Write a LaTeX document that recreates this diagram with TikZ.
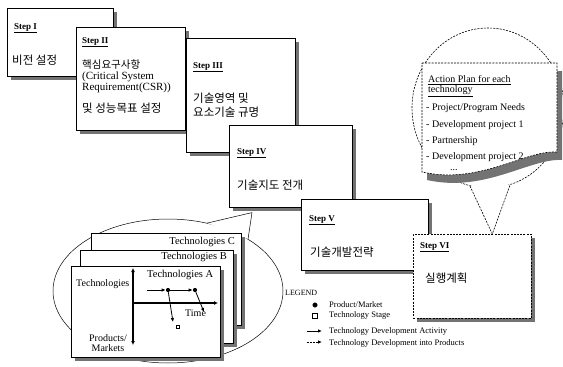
\documentclass[tikz,border=0pt]{standalone}
\usepackage{fontspec}
\setmainfont{Liberation Serif}
\newfontfamily\kr{Noto Sans CJK KR}
\usetikzlibrary{shapes.geometric,shadows,calc,arrows.meta}
\definecolor{shadowc}{gray}{0.45}
\tikzset{
  shd/.style={drop shadow={shadow xshift=3.5pt, shadow yshift=-3.5pt, fill=shadowc, opacity=1}},
  stepbox/.style={draw, fill=white, line width=0.6pt, anchor=north west, inner sep=0pt, shd},
  dstepbox/.style={stepbox, dash pattern=on 2pt off 1.2pt},
  page/.style={stepbox},
  steplbl/.style={anchor=west, inner sep=0pt, font=\fontsize{9}{10}\selectfont\bfseries},
  krt/.style={anchor=west, inner sep=0pt, font=\kr\fontsize{11.5}{13}\selectfont},
  ent/.style={anchor=west, inner sep=0pt, font=\fontsize{11}{11}\selectfont},
  ptxt/.style={anchor=west, inner sep=0pt, font=\fontsize{10.5}{11}\selectfont},
  apt/.style={anchor=west, inner sep=0pt, font=\fontsize{10}{11}\selectfont},
  lgt/.style={anchor=west, inner sep=0pt, font=\fontsize{8.5}{9}\selectfont},
  dsh/.style={dash pattern=on 2pt off 1.2pt},
  tip/.style={-{Latex[length=4pt,width=3.5pt]}},
  dot/.style={circle, fill=black, inner sep=0pt, minimum size=4.2pt},
}
\begin{document}
\begin{tikzpicture}[x=1pt,y=-1pt]
\useasboundingbox (0,0) rectangle (563,367);

% ---- lower-left callout ellipse
\node[ellipse, draw, line width=0.5pt, fill=white, minimum width=230pt, minimum height=144pt, inner sep=0pt] (ell) at (168,291) {};
% ---- top-right callout ellipse
\node[ellipse, draw, dsh, line width=0.6pt, fill=white, minimum width=152pt, minimum height=160pt, inner sep=0pt] (ell2) at (488,108) {};

% ---- step boxes
\node[stepbox, minimum width=106pt, minimum height=68pt] (s1) at (7,8) {};
\node[steplbl] (l1) at (14,28) {\underline{Step I}};
\node[krt] (k1) at (12,60) {비전 설정};

\node[stepbox, minimum width=109pt, minimum height=103pt] (s2) at (76,27) {};
\node[steplbl] (l2) at (82,42) {\underline{Step II}};
\node[krt, font=\kr\fontsize{10.5}{12}\selectfont] (k2a) at (82,65) {핵심요구사항};
\node[ent] (k2b) at (82,77) {(Critical System};
\node[ent] (k2c) at (82,88) {Requirement(CSR))};
\node[krt] (k2d) at (82,108) {및 성능목표 설정};

\node[stepbox, minimum width=109pt, minimum height=114pt] (s3) at (186,38) {};
\node[steplbl] (l3) at (193,67) {\underline{Step III}};
\node[krt] (k3a) at (193,98) {기술영역 및};
\node[krt] (k3b) at (193,112) {요소기술 규명};

\node[stepbox, minimum width=123pt, minimum height=82pt] (s4) at (229,125) {};
\node[steplbl] (l4) at (237,153) {\underline{Step IV}};
\node[krt] (k4) at (237,185) {기술지도 전개};

\node[stepbox, minimum width=127pt, minimum height=71pt] (s5) at (301,199) {};
\node[steplbl] (l5) at (309,220) {\underline{Step V}};
\node[krt] (k5) at (310,252) {기술개발전략};

\node[dstepbox, minimum width=118pt, minimum height=84pt] (s6) at (413,234) {};
\node[steplbl] (l6) at (420,247) {\underline{Step VI}};
\node[krt] (k6) at (425,278) {실행계획};

% ---- callout tails
\coordinate (tipA) at ($(s4.south west)+(23,5)$);
\fill[white] (ell.60) -- (tipA) -- (ell.33) -- cycle;
\draw[line width=0.5pt] (ell.60) -- (tipA) -- (ell.33);

\coordinate (tipB) at ($(s6.north)+(20,0)$);
\fill[white] (ell2.257) -- (tipB) -- (ell2.286) -- cycle;
\draw[dsh, line width=0.6pt] (ell2.257) -- (tipB) -- (ell2.286);

% ---- action plan document
\fill[shadowc] (427,71) -- (562,71) -- (562,160) .. controls (530,158) and (485,193) .. (427,180) -- cycle;
\draw[dsh, line width=0.6pt, fill=white] (422,63) -- (557,63) -- (557,152) .. controls (525,150) and (480,185) .. (422,172) -- cycle;
\node[apt] (ap1) at (428,80) {\underline{Action Plan for each}};
\node[apt] (ap2) at (428,91) {\underline{technology}};
\node[apt] (ap3) at (426,108) {- Project/Program Needs};
\node[apt] (ap4) at (426,125) {- Development project 1};
\node[apt] (ap5) at (426,141) {- Partnership};
\node[apt] (ap6) at (426,157) {- Development project 2};
\node[apt] (ap7) at (450,170) {...};

% ---- stack of roadmap pages
\node[page, minimum width=150pt, minimum height=92pt] (pc) at (91,233) {};
\node[ptxt, anchor=east] (tc) at (235,242) {Technologies C};
\node[page, minimum width=153pt, minimum height=93pt] (pb) at (80,250) {};
\node[ptxt, anchor=east] (tb) at (227,257) {Technologies B};
\node[page, minimum width=149pt, minimum height=91pt] (pa) at (71,266) {};
\node[ptxt] (ta) at (147,275) {Technologies A};

\node[ptxt, font=\fontsize{10}{11}\selectfont] (tt) at (76,284) {Technologies};
\node[inner sep=0pt, font=\fontsize{10}{10}\selectfont, align=center] (pm) at (108,343) {Products/\\Markets};
\node[ptxt, font=\fontsize{10}{11}\selectfont] (time) at (185,313) {Time};

\coordinate (vtop) at (133,268);
\coordinate (vbot) at (133,345);
\coordinate (horg) at (133,303);
\coordinate (hend) at (218,303);
\draw[line width=1.2pt, {Latex[length=4pt,width=4pt]}-{Latex[length=4pt,width=4pt]}] (vtop) -- (vbot);
\draw[line width=1.2pt, -{Latex[length=4pt,width=4pt]}] (horg) -- (hend);

\coordinate (a0) at (147,290);
\node[dot] (d1) at (168,290) {};
\node[dot] (d2) at (195,290) {};
\coordinate (e1) at (173,322);
\coordinate (e2) at (204,312);
\draw[line width=0.8pt, tip] (a0) -- (d1);
\draw[line width=0.8pt, tip] (d1) -- (d2);
\draw[line width=0.8pt, tip] (d1) -- (e1);
\draw[line width=0.8pt, tip] (d2) -- (e2);
\node[draw, fill=white, inner sep=0pt, minimum size=3.5pt, line width=0.6pt] (sq) at (178,327) {};

% ---- legend
\node[lgt, font=\fontsize{8}{9}\selectfont] (lg) at (285,293) {LEGEND};
\node[dot, draw=black, minimum size=4.5pt] (lgd) at (315,305) {};
\node[lgt] (lgd-t) at (329,305) {Product/Market};
\node[draw, inner sep=0pt, minimum size=5pt, line width=0.7pt] (lgs) at (315,315.5) {};
\node[lgt] (lgs-t) at (329,315.5) {Technology Stage};
\coordinate (la1) at (307,331);
\coordinate (la2) at (322,331);
\draw[line width=0.8pt, tip] (la1) -- (la2);
\node[lgt] (la-t) at (329,331.5) {Technology Development Activity};
\coordinate (lb1) at (307,342);
\coordinate (lb2) at (322,342);
\draw[line width=0.8pt, tip, dash pattern=on 2pt off 1pt] (lb1) -- (lb2);
\node[lgt] (lb-t) at (329,343) {Technology Development into Products};
\end{tikzpicture}
\end{document}
